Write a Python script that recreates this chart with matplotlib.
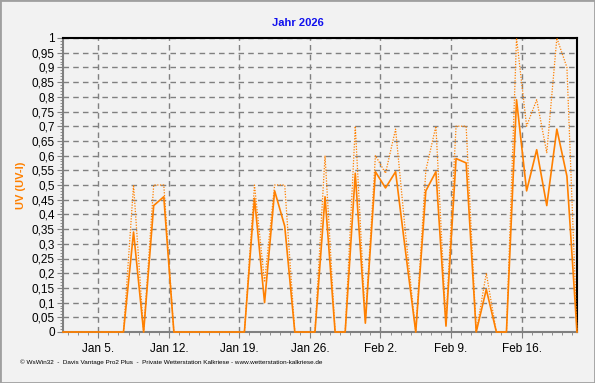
import numpy as np
import pandas as pd
import matplotlib
matplotlib.use("Agg")
import matplotlib.pyplot as plt
import matplotlib.dates as mdates
from matplotlib.ticker import FuncFormatter, MultipleLocator
from matplotlib.patches import Rectangle

plt.rcParams["font.family"] = ["Liberation Sans", "DejaVu Sans"]

# ── Data (daily values, Jan 1 .. Feb 21, 2026) ──
days = pd.date_range("2026-01-01 12:00", periods=52, freq="D")
uv_solid = [0, 0, 0, 0, 0, 0, 0, 0.34, 0, 0.43,
            0.46, 0, 0, 0, 0, 0, 0, 0, 0, 0.455,
            0.10, 0.48, 0.36, 0, 0, 0, 0.46, 0, 0, 0.54,
            0.03, 0.545, 0.49, 0.545, 0.27, 0, 0.48, 0.545, 0.02, 0.59,
            0.575, 0, 0.145, 0, 0, 0.79, 0.48, 0.62, 0.43, 0.69,
            0.53, 0]
uv_dotted = [0, 0, 0, 0, 0, 0, 0, 0.5, 0, 0.5,
             0.5, 0, 0, 0, 0, 0, 0, 0, 0, 0.5,
             0.17, 0.5, 0.5, 0, 0, 0, 0.6, 0, 0, 0.7,
             0.04, 0.6, 0.54, 0.69, 0.33, 0, 0.55, 0.7, 0.03, 0.7,
             0.7, 0, 0.2, 0, 0, 1.0, 0.7, 0.79, 0.61, 1.0,
             0.9, 0]
tick_dates = pd.to_datetime(["2026-01-05", "2026-01-12", "2026-01-19", "2026-01-26",
                             "2026-02-02", "2026-02-09", "2026-02-16"])
tick_labels = ["Jan 5.", "Jan 12.", "Jan 19.", "Jan 26.", "Feb 2.", "Feb 9.", "Feb 16."]

BG = "#f2f2f2"
ORANGE = "#ff8000"
GRID = "#808080"

fig = plt.figure(figsize=(5.95, 3.83), dpi=100, facecolor=BG)
ax = fig.add_axes([63 / 595, 1 - 332 / 383, 514 / 595, 294 / 383])
ax.set_facecolor(BG)

ax.plot(days, uv_dotted, color=ORANGE, linewidth=0.9, linestyle=(0, (1, 1.2)), zorder=3, clip_on=False)
ax.plot(days, uv_solid, color=ORANGE, linewidth=1.2, zorder=4, clip_on=False)

ax.set_xlim(days[0], days[-1])
ax.set_ylim(0, 1)

ax.set_xticks(tick_dates)
ax.set_xticklabels(tick_labels, fontsize=8.5)
ax.xaxis.set_minor_locator(mdates.DayLocator())
ax.yaxis.set_major_locator(MultipleLocator(0.05))
ax.yaxis.set_minor_locator(MultipleLocator(0.01))
ax.yaxis.set_major_formatter(FuncFormatter(lambda v, p: f"{v:.2f}".rstrip("0").rstrip(".").replace(".", ",")))
ax.tick_params(axis="y", labelsize=8.5, length=4, color=GRID, pad=2)
ax.tick_params(axis="x", length=4, color=GRID, pad=4)
ax.tick_params(which="minor", length=2, color=GRID)

ax.grid(True, which="major", color=GRID, linestyle=(0, (4, 3)), linewidth=1)

for side in ["top", "right"]:
    ax.spines[side].set_color("black")
    ax.spines[side].set_linewidth(1.5)
for side in ["left", "bottom"]:
    ax.spines[side].set_color(GRID)
    ax.spines[side].set_linewidth(1.5)

ax.set_ylabel("UV (UV-I)", color=ORANGE, fontsize=8, fontweight="bold", labelpad=4)
fig.text(298 / 595, 1 - 23 / 383, "Jahr 2026", color="#1010ee", fontsize=8,
         fontweight="bold", ha="center", va="center")
fig.text(20 / 595, 1 - 362 / 383,
         "© WsWin32  -  Davis Vantage Pro2 Plus  -  Private Wetterstation Kalkriese - www.wetterstation-kalkriese.de",
         fontsize=4.6, ha="left", va="center")

fig.patches.append(Rectangle((0, 0), 1, 1, transform=fig.transFigure, fill=False,
                             edgecolor="#a0a0a0", linewidth=2))

fig.savefig("out.png", dpi=100, facecolor=BG)
